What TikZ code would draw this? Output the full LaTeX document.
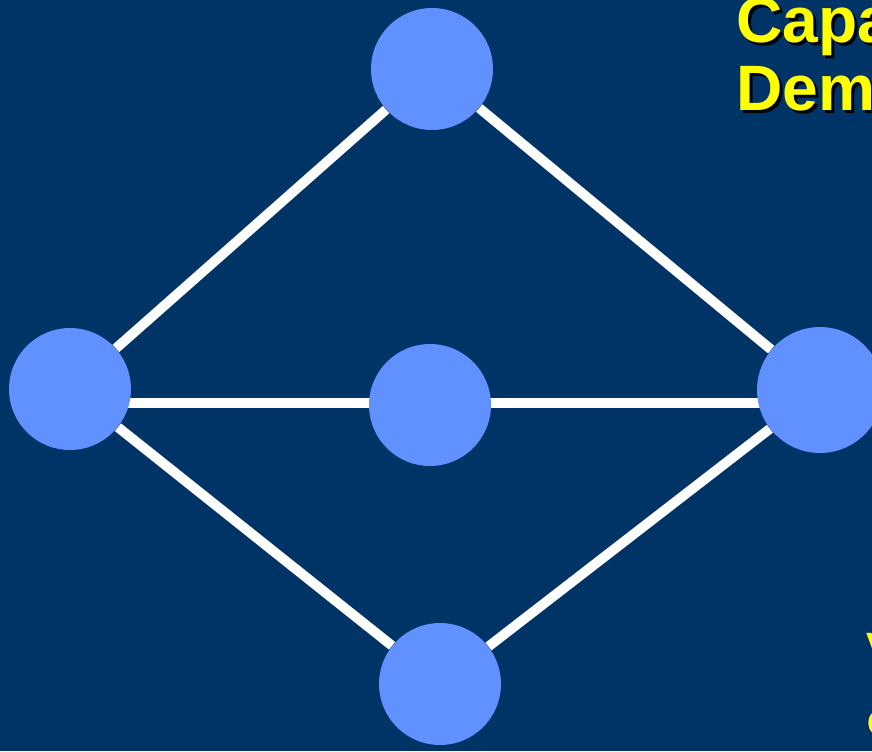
\documentclass[tikz,border=0pt]{standalone}
\usepackage{fontspec}
\setmainfont{Liberation Sans}
\usetikzlibrary{positioning, backgrounds}
\definecolor{navy}{RGB}{0,51,102}
\definecolor{vertex}{RGB}{97,144,255}
\definecolor{titleyellow}{RGB}{255,255,0}
\tikzset{
  vtx/.style={circle, fill=vertex, minimum size=2.44cm, inner sep=0pt},
  link/.style={draw=white, line width=5.6pt},
  title/.style={font=\fontsize{36.5}{38}\selectfont\bfseries, text=titleyellow,
                anchor=base west, inner sep=0pt},
  shadow/.style={font=\fontsize{36.5}{38}\selectfont\bfseries, text=black,
                 anchor=base west, inner sep=0pt},
  note/.style={font=\fontsize{20}{22}\selectfont\bfseries, text=titleyellow,
               anchor=north west, inner sep=0pt},
}

\begin{document}
\begin{tikzpicture}[x=0.02cm, y=-0.02cm]
  \useasboundingbox (0,0) rectangle (872,751);
  \clip (0,0) rectangle (872,751);

  % Vertices
  \node[vtx] (top) at (432,69) {};
  \node[vtx] (west) at (70,389) {};
  \node[vtx] (mid) at (430,405) {};
  \node[vtx, minimum size=2.52cm] (east) at (820,390) {};
  \node[vtx] (bot) at (440,684) {};

  % Links (behind the vertices)
  \begin{scope}[on background layer]
    \fill[navy] (0,0) rectangle (872,751);
    \draw[link] (west) -- (top);
    \draw[link] (top) -- (east);
    \draw[link] (west |- 0,403) -- (east |- 0,403);
    \draw[link] (west) -- (bot);
    \draw[link] (bot) -- (east);
  \end{scope}

  % Title, cut by the right edge
  \node[shadow] (capas) at (739,45) {Capa};
  \node[title] (capa) at (736,42) {Capa};
  \node[shadow] (dems) at (739,113) {Dem};
  \node[title] (dem) at (736,110) {Dem};

  % Side notes, cut by the right edge
  \node[note] (v) at (866,633) {V};
  \node[note] (c) at (867,711) {C};
\end{tikzpicture}
\end{document}
